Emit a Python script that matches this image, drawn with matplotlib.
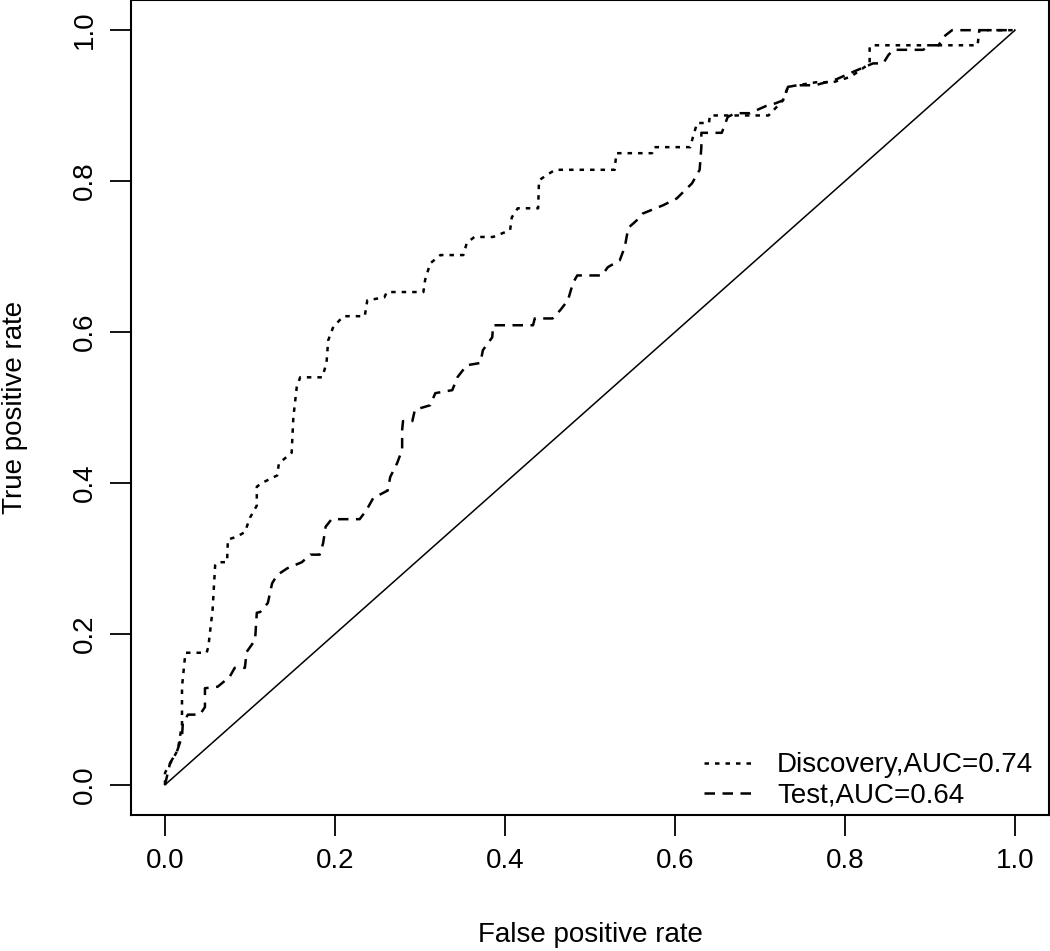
"""
ROC curves for the discovery and test sets, R base-graphics look.
"""

import matplotlib
matplotlib.use('Agg')
import matplotlib.pyplot as plt

# ── DATA ─────────────────────────────────────────────────────────────────────
DISC_FPR = [0.0, 0.0, 0.015, 0.02, 0.02, 0.024, 0.049, 0.051, 0.056, 0.059,
            0.062, 0.073, 0.074, 0.085, 0.094, 0.1, 0.108, 0.108, 0.114, 0.132,
            0.134, 0.149, 0.151, 0.155, 0.159, 0.185, 0.19, 0.192, 0.198, 0.21,
            0.235, 0.238, 0.258, 0.261, 0.304, 0.306, 0.312, 0.324, 0.351, 0.355,
            0.364, 0.386, 0.406, 0.408, 0.415, 0.439, 0.44, 0.449, 0.459, 0.529,
            0.531, 0.573, 0.575, 0.618, 0.621, 0.626, 0.64, 0.641, 0.71, 0.727,
            0.733, 0.766, 0.786, 0.806, 0.818, 0.829, 0.829, 0.832, 0.956, 0.958,
            1.0]
DISC_TPR = [0.0, 0.016, 0.046, 0.08, 0.13, 0.175, 0.175, 0.183, 0.232, 0.291,
            0.295, 0.295, 0.325, 0.329, 0.335, 0.354, 0.37, 0.395, 0.4, 0.41,
            0.426, 0.44, 0.487, 0.527, 0.54, 0.54, 0.559, 0.589, 0.607, 0.621,
            0.621, 0.642, 0.646, 0.653, 0.653, 0.669, 0.691, 0.702, 0.702, 0.718,
            0.726, 0.726, 0.735, 0.752, 0.764, 0.764, 0.801, 0.808, 0.815, 0.815,
            0.837, 0.837, 0.845, 0.845, 0.858, 0.877, 0.877, 0.887, 0.887, 0.907,
            0.925, 0.931, 0.931, 0.938, 0.947, 0.956, 0.978, 0.98, 0.98, 1.0,
            1.0]

TEST_FPR = [0.0, 0.006, 0.014, 0.02, 0.021, 0.027, 0.041, 0.047, 0.047, 0.062,
            0.076, 0.082, 0.094, 0.096, 0.106, 0.108, 0.112, 0.121, 0.126, 0.132,
            0.144, 0.161, 0.171, 0.182, 0.186, 0.189, 0.196, 0.229, 0.237, 0.245,
            0.262, 0.265, 0.273, 0.279, 0.279, 0.28, 0.291, 0.294, 0.312, 0.318,
            0.338, 0.344, 0.355, 0.371, 0.374, 0.385, 0.386, 0.433, 0.435, 0.456,
            0.465, 0.474, 0.48, 0.485, 0.514, 0.521, 0.535, 0.541, 0.545, 0.555,
            0.562, 0.586, 0.602, 0.62, 0.629, 0.631, 0.631, 0.655, 0.662, 0.671,
            0.688, 0.708, 0.718, 0.727, 0.733, 0.747, 0.765, 0.79, 0.81, 0.833,
            0.845, 0.851, 0.857, 0.892, 0.9, 0.91, 0.918, 0.926, 1.0]
TEST_TPR = [0.0, 0.029, 0.044, 0.064, 0.082, 0.093, 0.093, 0.103, 0.128, 0.13,
            0.143, 0.155, 0.155, 0.176, 0.192, 0.228, 0.229, 0.241, 0.267, 0.278,
            0.287, 0.295, 0.305, 0.305, 0.32, 0.342, 0.352, 0.352, 0.364, 0.38,
            0.39, 0.408, 0.426, 0.444, 0.47, 0.482, 0.482, 0.497, 0.503, 0.519,
            0.523, 0.54, 0.556, 0.559, 0.576, 0.593, 0.609, 0.609, 0.618, 0.618,
            0.629, 0.642, 0.665, 0.675, 0.675, 0.686, 0.695, 0.713, 0.738, 0.748,
            0.757, 0.768, 0.777, 0.797, 0.815, 0.845, 0.864, 0.864, 0.885, 0.89,
            0.89, 0.9, 0.903, 0.907, 0.925, 0.927, 0.927, 0.935, 0.945, 0.956,
            0.956, 0.967, 0.974, 0.974, 0.98, 0.98, 0.993, 1.0, 1.0]

LABELS = ['Discovery,AUC=0.74', 'Test,AUC=0.64']
TICKS = [0.0, 0.2, 0.4, 0.6, 0.8, 1.0]
# ─────────────────────────────────────────────────────────────────────────────

FS = 20
plt.rcParams['font.family'] = ['Liberation Sans', 'DejaVu Sans']
plt.rcParams['font.size'] = FS

fig = plt.figure(figsize=(10.5, 9.51), dpi=100)
ax = fig.add_axes([131 / 1050, 136 / 951, 918 / 1050, 815 / 951])

ax.plot(DISC_FPR, DISC_TPR, color='black', linewidth=1.8,
        linestyle=(0, (1.8, 2.4)), label=LABELS[0])
ax.plot(TEST_FPR, TEST_TPR, color='black', linewidth=1.8,
        linestyle=(0, (4.2, 3.0)), label=LABELS[1])
ax.plot([0, 1], [0, 1], color='black', linewidth=1.1)

ax.set_xlim(-0.04, 1.04)
ax.set_ylim(-0.04, 1.04)
ax.set_xticks(TICKS)
ax.set_yticks(TICKS)
ax.set_xticklabels([f'{t:.1f}' for t in TICKS])
ax.set_yticklabels([f'{t:.1f}' for t in TICKS], rotation=90, va='center')
ax.tick_params(direction='out', length=15, width=1.3, pad=9, labelsize=FS)

for sp in ax.spines.values():
    sp.set_linewidth(1.5)

ax.set_xlabel('False positive rate', fontsize=FS, va='center')
ax.xaxis.set_label_coords(0.5, -0.147)
ax.set_ylabel('True positive rate', fontsize=FS, va='center')
ax.yaxis.set_label_coords(-0.126, 0.5)

ax.legend(loc='lower right', bbox_to_anchor=(0.983, 0.008), frameon=False,
          fontsize=FS, handlelength=1.75, handletextpad=0.9, labelspacing=0.15,
          borderaxespad=0.0, borderpad=0.0)

fig.savefig('out.png', dpi=100)
